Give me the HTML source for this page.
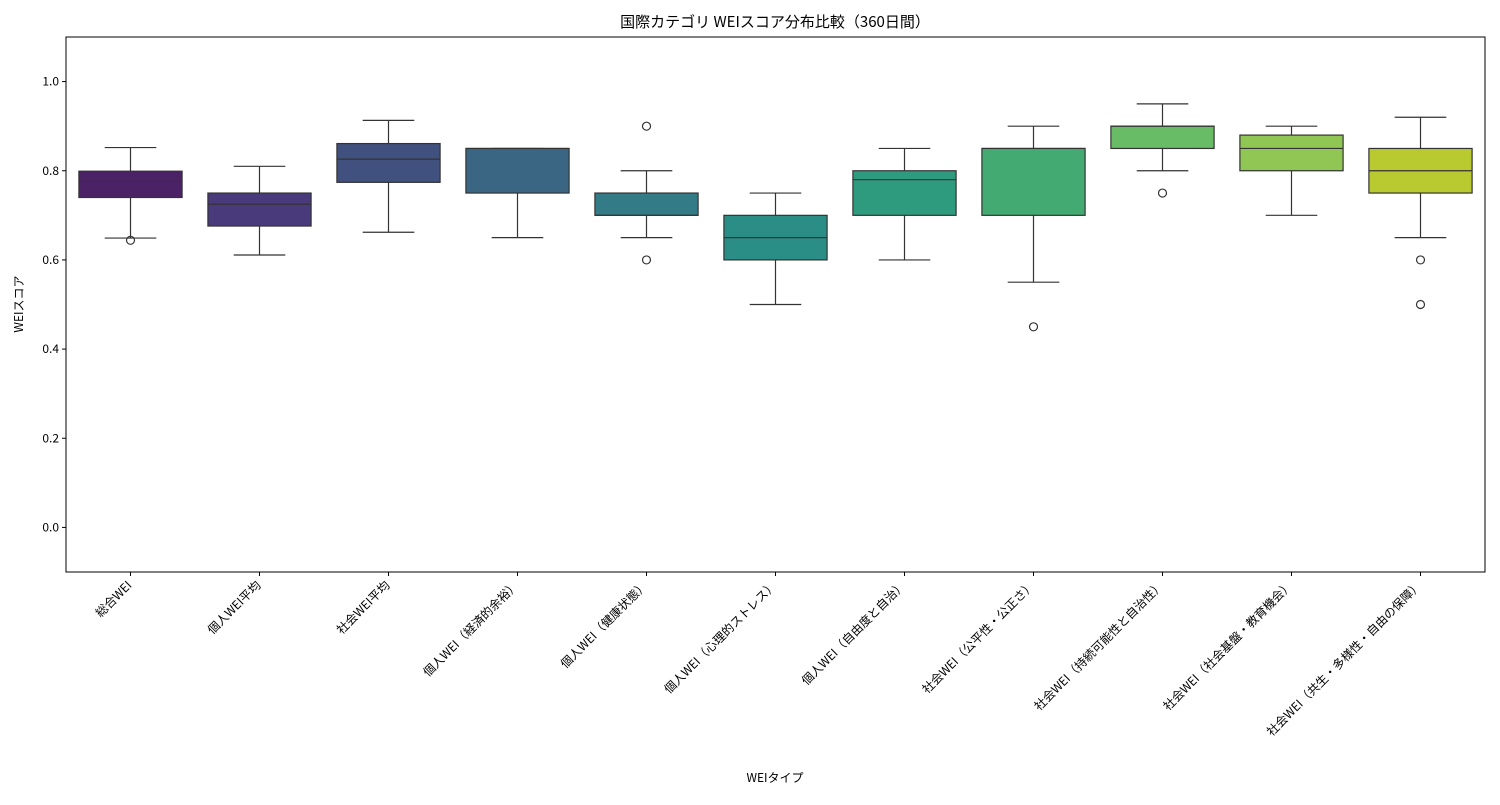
<!DOCTYPE html>
<html><head><meta charset="utf-8"><style>
body{margin:0;background:#fff;}
svg text{font-family:"Noto Sans CJK JP","Liberation Sans",sans-serif;fill:#000;}
</style></head><body>
<svg id="c" width="1500" height="800" xmlns="http://www.w3.org/2000/svg">
<rect x="0" y="0" width="1500" height="800" fill="#fff"/>
<text x="775" y="27" font-size="15" text-anchor="middle">国際カテゴリ WEIスコア分布比較（360日間）</text>
<text x="775" y="782" font-size="12" text-anchor="middle">WEIタイプ</text>
<text transform="translate(23,304) rotate(-90)" font-size="12" text-anchor="middle">WEIスコア</text>
<g id="g"></g>
<rect x="66" y="37" width="1419" height="535" fill="none" stroke="#000" stroke-width="1"/>
</svg>
<script>
const categories=["総合WEI","個人WEI平均","社会WEI平均","個人WEI（経済的余裕）","個人WEI（健康状態）","個人WEI（心理的ストレス）","個人WEI（自由度と自治）","社会WEI（公平性・公正さ）","社会WEI（持続可能性と自治性）","社会WEI（社会基盤・教育機会）","社会WEI（共生・多様性・自由の保障）"];
const whiskerLow=[0.649,0.611,0.662,0.65,0.65,0.5,0.6,0.55,0.8,0.7,0.65];
const q1=[0.74,0.676,0.774,0.75,0.7,0.6,0.7,0.7,0.85,0.8,0.75];
const medians=[0.776,0.725,0.826,0.85,0.7,0.65,0.78,0.85,0.9,0.85,0.8];
const q3=[0.799,0.75,0.861,0.85,0.75,0.7,0.8,0.85,0.9,0.88,0.85];
const whiskerHigh=[0.852,0.81,0.913,0.85,0.8,0.75,0.85,0.9,0.95,0.9,0.92];
const outliers=[[0.644],[],[],[],[0.9,0.6],[],[],[0.45],[0.75],[],[0.6,0.5]];
const yTicks=[0.0,0.2,0.4,0.6,0.8,1.0];
const colors=["#4b2266","#483a7b","#41517f","#3a6683","#327b87","#2b8e86","#2f9b7e","#43ab72","#69bc66","#8fc654","#b8ca2f"];
const X0=66,X1=1485,Y0=37,Y1=572,ymin=-0.1,ymax=1.1;
const y=v=>Y1-(v-ymin)/(ymax-ymin)*(Y1-Y0);
const step=(X1-X0)/categories.length;
const x=i=>X0+step*(i+0.5);
const g=document.getElementById('g');
const NS="http://www.w3.org/2000/svg";
function mk(t,a){const e=document.createElementNS(NS,t);for(const k in a)e.setAttribute(k,a[k]);g.appendChild(e);return e;}
yTicks.forEach(v=>{
 const t=mk('line',{x1:X0-4,x2:X0,y1:y(v),y2:y(v),stroke:'#000'});
 
 
 const l=mk('text',{x:X0-7,y:y(v)+4,'font-size':12,'text-anchor':'end'});
 l.textContent=v.toFixed(1);
 
 
});
const bw=step*0.8;
categories.forEach((c,i)=>{
 const cx=x(i);
 const t=mk('line',{x1:cx,x2:cx,y1:Y1,y2:Y1+4,stroke:'#000'});
 
 
 const l=mk('text',{transform:`translate(${cx+2},${Y1+14}) rotate(-45)`,'font-size':12,'text-anchor':'end'});
 l.textContent=c;
 
 
 const w1=mk('line',{x1:cx,x2:cx,y1:y(whiskerLow[i]),y2:y(q1[i]),stroke:'#333','stroke-width':1.2});
 
 
 const w2=mk('line',{x1:cx,x2:cx,y1:y(q3[i]),y2:y(whiskerHigh[i]),stroke:'#333','stroke-width':1.2});
 
 
 [whiskerLow[i],whiskerHigh[i]].forEach(v=>{
  const cap=mk('line',{x1:cx-bw/4,x2:cx+bw/4,y1:y(v),y2:y(v),stroke:'#333','stroke-width':1.2});
  
  
 });
 const b=mk('rect',{x:cx-bw/2,y:y(q3[i]),width:bw,height:Math.max(0.5,y(q1[i])-y(q3[i])),fill:colors[i],stroke:'#333','stroke-width':1.2});
 
 
 const m=mk('line',{x1:cx-bw/2,x2:cx+bw/2,y1:y(medians[i]),y2:y(medians[i]),stroke:'#333','stroke-width':1.2});
 
 
 outliers[i].forEach(v=>{
  const o=mk('circle',{cx:cx,cy:y(v),r:4,fill:'none',stroke:'#333','stroke-width':1.2});
  
  
 });
});
</script>
</body></html>
